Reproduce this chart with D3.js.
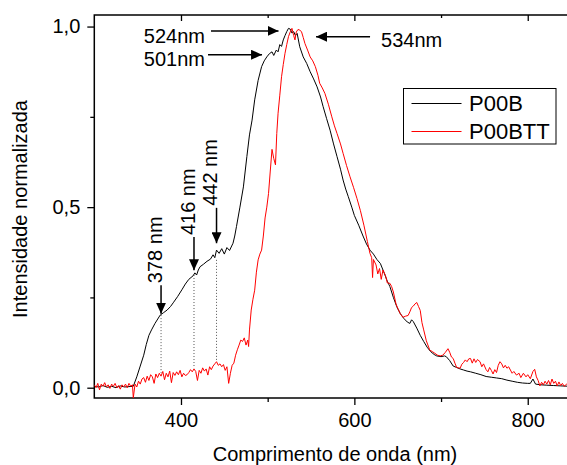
<!DOCTYPE html>
<html>
<head>
<meta charset="utf-8">
<script src="https://cdnjs.cloudflare.com/ajax/libs/d3/7.8.5/d3.min.js"></script>
<style>
	body { margin: 0; background: #fff; }
	svg { display: block; font-family: "Liberation Sans", Arial, sans-serif; }
	.frame { fill: none; stroke: #000; stroke-width: 1.5px; }
	.axis text { font-size: 20px; fill: #000; }
	.axis line { stroke: #000; stroke-width: 1.3px; }
	.axis .domain { display: none; }
	.series { fill: none; stroke-width: 1px; stroke-linejoin: round; }
	.guide { stroke: #555; stroke-width: 1px; stroke-dasharray: 1,2; }
	.arrow { stroke: #000; stroke-width: 1.5px; }
	.note { font-size: 20px; }
	.legend rect { fill: #fff; stroke: #000; stroke-width: 1px; }
	.legend text { font-size: 22px; }
	.title { font-size: 20px; }
</style>
</head>
<body>
<div id="chart"></div>
<script>
// ticks
var xTickValues = [400, 600, 800],
	xMinorTicks = [500, 700],
	yTickValues = [0, 0.5, 1.0],
	yTickLabels = ["0,0", "0,5", "1,0"],
	yMinorTicks = [0.25, 0.75];

var seriesNames = ["P00B", "P00BTT"],
	seriesColors = ["#000000", "#ff0000"];

// P00B (black)
var p00bNm = [300, 305, 310, 315, 320, 325, 330, 335, 340, 345, 349, 353, 357, 360, 363, 366, 370, 376, 380, 384,
	388, 391, 396, 401, 405, 409, 414, 416, 418, 420, 422, 426, 430, 434, 437, 439, 441, 444, 447, 450,
	453, 456, 460, 462, 464, 468, 472, 476, 479, 482, 485, 489, 493, 496, 499, 502, 505, 507, 510, 512,
	514, 516, 518, 520, 522, 524, 526, 528, 530, 532, 534, 537, 541, 545, 549, 553, 557, 561, 564, 568,
	572, 576, 580, 584, 587, 590, 593, 597, 600, 605, 610, 614, 618, 622, 626, 630, 634, 638, 641, 645,
	649, 653, 657, 661, 664, 666, 668, 672, 676, 680, 684, 688, 692, 695, 700, 704, 706, 710, 714, 718,
	722, 726, 730, 734, 740, 746, 752, 758, 764, 770, 776, 782, 788, 794, 800, 803, 806, 809, 815, 822,
	830, 838, 848];
var p00bValues = [0.004, 0.002, 0.006, 0.001, 0.004, 0.000, 0.005, 0.002, 0.003, 0.004, 0.030, 0.060, 0.090, 0.120, 0.145, 0.160, 0.178, 0.201, 0.208, 0.215,
	0.225, 0.235, 0.252, 0.271, 0.287, 0.300, 0.310, 0.318, 0.312, 0.326, 0.335, 0.342, 0.350, 0.356, 0.368, 0.360, 0.381, 0.372, 0.385, 0.370,
	0.388, 0.380, 0.400, 0.420, 0.446, 0.500, 0.556, 0.640, 0.700, 0.741, 0.797, 0.851, 0.889, 0.905, 0.916, 0.925, 0.930, 0.920, 0.935, 0.930,
	0.950, 0.945, 0.963, 0.975, 0.986, 0.995, 0.993, 0.982, 0.986, 0.975, 0.981, 0.944, 0.916, 0.898, 0.875, 0.855, 0.833, 0.805, 0.778, 0.745,
	0.713, 0.675, 0.640, 0.605, 0.575, 0.550, 0.529, 0.500, 0.477, 0.450, 0.420, 0.398, 0.381, 0.370, 0.355, 0.344, 0.320, 0.295, 0.280, 0.250,
	0.224, 0.205, 0.192, 0.182, 0.178, 0.188, 0.183, 0.165, 0.145, 0.128, 0.112, 0.100, 0.092, 0.088, 0.086, 0.088, 0.086, 0.075, 0.060, 0.056,
	0.052, 0.049, 0.046, 0.044, 0.040, 0.036, 0.031, 0.029, 0.027, 0.025, 0.021, 0.018, 0.015, 0.013, 0.012, 0.012, 0.024, 0.010, 0.008, 0.007,
	0.006, 0.005, 0.004];

// P00BTT (red)
var p00bttNm = [300, 302, 304, 306, 308, 310, 312, 314, 316, 318, 320, 322, 324, 326, 328, 330, 332, 334, 336, 338,
	340, 342, 344, 345, 347, 349, 351, 353, 355, 357, 359, 361, 363, 365, 367, 369, 371, 373, 375, 377,
	379, 381, 383, 385, 387, 389, 391, 393, 395, 397, 399, 401, 403, 405, 407, 409, 411, 413, 415, 417,
	419, 421, 423, 425, 427, 429, 431, 433, 435, 437, 439, 441, 443, 445, 447, 449, 451, 453, 455, 457,
	459, 461, 463, 465, 467, 469, 471, 473, 475, 477, 478, 479, 481, 483, 485, 487, 489, 491, 493, 495,
	497, 499, 501, 503, 505, 507, 509, 510.5, 512, 514, 516, 518, 520, 522, 524, 526, 528, 530, 531.5, 533,
	535, 537, 539, 541, 543, 546, 549, 552, 555, 558, 560, 563, 566, 570, 574, 577, 580, 584, 587, 591,
	595, 599, 603, 607, 611, 615, 618, 620, 621, 622, 625, 627, 629, 631, 633, 636, 638, 641, 643, 645,
	648, 650, 653, 656, 659, 662, 664, 666, 668, 670, 672, 674, 676, 678, 680, 683, 687, 690, 693, 696,
	699, 702, 705, 708, 710, 712, 714, 716, 718, 720, 722, 724, 726, 728, 730, 732, 734, 736, 738, 740,
	742, 745, 747, 749, 752, 754, 756, 758, 760, 762, 764, 766, 768, 770, 772, 774, 776, 778, 780, 782,
	784, 787, 790, 792, 795, 798, 800, 803, 806, 808, 810, 812, 814, 816, 818, 820, 822, 824, 826, 828,
	830, 832, 834, 836, 838, 840, 842, 845, 848];
var p00bttValues = [0.008, 0.000, 0.012, -0.006, 0.010, 0.004, 0.014, 0.002, 0.008, -0.002, 0.010, 0.004, 0.012, 0.000, 0.006, -0.004, 0.008, 0.002, 0.010, 0.000,
	0.012, 0.004, 0.008, -0.028, 0.010, 0.002, 0.018, 0.010, 0.024, 0.028, 0.015, 0.032, 0.020, 0.036, 0.030, 0.012, 0.038, 0.028, 0.040, 0.032,
	0.045, 0.022, 0.040, 0.030, 0.046, 0.014, 0.042, 0.034, 0.044, 0.036, 0.048, 0.030, 0.040, 0.034, 0.036, 0.042, 0.050, 0.044, 0.052, 0.045,
	0.020, 0.048, 0.040, 0.055, 0.046, 0.052, 0.035, 0.058, 0.050, 0.060, 0.066, 0.072, 0.062, 0.066, 0.058, 0.064, 0.048, 0.058, 0.012, 0.040,
	0.062, 0.068, 0.090, 0.105, 0.118, 0.132, 0.128, 0.138, 0.118, 0.132, 0.114, 0.160, 0.215, 0.245, 0.270, 0.320, 0.354, 0.370, 0.381, 0.420,
	0.470, 0.500, 0.538, 0.600, 0.660, 0.635, 0.617, 0.704, 0.760, 0.810, 0.861, 0.895, 0.926, 0.950, 0.972, 0.985, 0.995, 0.975, 0.963, 0.985,
	0.992, 0.990, 0.986, 0.970, 0.953, 0.935, 0.916, 0.905, 0.889, 0.865, 0.843, 0.830, 0.815, 0.785, 0.750, 0.725, 0.704, 0.675, 0.649, 0.615,
	0.584, 0.555, 0.524, 0.490, 0.450, 0.405, 0.372, 0.360, 0.305, 0.355, 0.340, 0.315, 0.330, 0.300, 0.326, 0.310, 0.290, 0.289, 0.280, 0.265,
	0.232, 0.220, 0.205, 0.195, 0.198, 0.200, 0.210, 0.222, 0.226, 0.232, 0.236, 0.225, 0.214, 0.180, 0.160, 0.130, 0.104, 0.100, 0.095, 0.090,
	0.088, 0.090, 0.098, 0.108, 0.098, 0.085, 0.081, 0.068, 0.056, 0.055, 0.054, 0.065, 0.070, 0.077, 0.072, 0.080, 0.081, 0.068, 0.080, 0.070,
	0.078, 0.072, 0.058, 0.066, 0.050, 0.044, 0.056, 0.048, 0.038, 0.050, 0.042, 0.062, 0.072, 0.066, 0.055, 0.062, 0.054, 0.058, 0.049, 0.040,
	0.045, 0.035, 0.040, 0.028, 0.040, 0.030, 0.036, 0.025, 0.045, 0.051, 0.030, 0.020, 0.005, 0.015, 0.008, 0.018, 0.010, 0.020, 0.008, 0.024,
	0.012, 0.018, 0.005, 0.016, 0.006, 0.012, 0.004, 0.010, 0.006];

// peak arrows (horizontal) and shoulder arrows (vertical), in nm / intensity
var peakLabels = ["524nm", "501nm", "534nm"],
	peakArrows = [[434.6, 0.988, 512.5, 0.988], [431.2, 0.922, 493.5, 0.922], [618.1, 0.972, 555.8, 0.972]],
	peakTextAt = [[427.7, 0.955, "end"], [427.7, 0.891, "end"], [630.8, 0.944, "start"]];

var shoulderLabels = ["378 nm", "416 nm", "442 nm"],
	shoulderNm = [377, 415, 441],
	shoulderArrowFrom = [0.284, 0.417, 0.498],
	shoulderArrowTo = [0.205, 0.325, 0.400],
	shoulderGuideTop = [0.201, 0.312, 0.354],
	shoulderGuideBottom = [0.041, 0.054, 0.077];

var chart = {
	create : function(config) {
		var _select = config.select || "#chart",
			_width = config.width || 567,
			_height = config.height || 465;

		var plot = { left: 94.3, right: 569, top: 15, bottom: 398 };

		var x = d3.scaleLinear().domain([300, 847.6]).range([plot.left, plot.right]);
		var y = d3.scaleLinear().domain([-0.0285, 1.032]).range([plot.bottom, plot.top]);

		var svg = d3.select(_select).append("svg")
			.attr("width", _width)
			.attr("height", _height);

		var defs = svg.append("defs");
		defs.append("clipPath").attr("id", "plotclip")
			.append("rect")
			.attr("x", plot.left).attr("y", plot.top)
			.attr("width", plot.right - plot.left).attr("height", plot.bottom - plot.top);
		defs.append("marker")
			.attr("id", "head")
			.attr("markerUnits", "userSpaceOnUse")
			.attr("viewBox", "0 0 11 10")
			.attr("refX", 11).attr("refY", 5)
			.attr("markerWidth", 11).attr("markerHeight", 10)
			.attr("orient", "auto")
			.append("path")
			.attr("d", "M0,0L11,5L0,10Z")
			.attr("fill", "#000");

		//
		// Axes
		//
		svg.append("g").attr("class", "axis")
			.attr("transform", "translate(0," + plot.bottom + ")")
			.call(d3.axisBottom(x).tickValues(xTickValues).tickSize(7).tickPadding(8).tickFormat(d3.format("d")));
		svg.append("g").attr("class", "axis")
			.attr("transform", "translate(0," + plot.bottom + ")")
			.call(d3.axisBottom(x).tickValues(xMinorTicks).tickSize(4).tickFormat(""));
		svg.append("g").attr("class", "axis")
			.attr("transform", "translate(0," + plot.top + ")")
			.call(d3.axisTop(x).tickValues(xTickValues).tickSize(-6).tickFormat(""));
		svg.append("g").attr("class", "axis")
			.attr("transform", "translate(0," + plot.top + ")")
			.call(d3.axisTop(x).tickValues(xMinorTicks).tickSize(-3).tickFormat(""));

		svg.append("g").attr("class", "axis")
			.attr("transform", "translate(" + plot.left + ",0)")
			.call(d3.axisLeft(y).tickValues(yTickValues).tickSize(7).tickPadding(7)
				.tickFormat(function(d, i) { return yTickLabels[i]; }));
		svg.append("g").attr("class", "axis")
			.attr("transform", "translate(" + plot.left + ",0)")
			.call(d3.axisLeft(y).tickValues(yMinorTicks).tickSize(4).tickFormat(""));

		svg.append("rect")
			.attr("class", "frame")
			.attr("x", plot.left).attr("y", plot.top)
			.attr("width", plot.right - plot.left).attr("height", plot.bottom - plot.top);

		svg.append("text").attr("class", "title")
			.attr("x", 335).attr("y", 461)
			.attr("text-anchor", "middle")
			.text("Comprimento de onda (nm)");
		svg.append("text").attr("class", "title")
			.attr("transform", "translate(26.5,209) rotate(-90)")
			.attr("text-anchor", "middle")
			.text("Intensidade normalizada");

		//
		// Guides (dotted) under the curves
		//
		var g = svg.append("g").attr("clip-path", "url(#plotclip)");

		g.selectAll("line.guide")
			.data(shoulderNm)
			.enter()
			.append("line")
			.attr("class", "guide")
			.attr("x1", function(d) { return x(d); })
			.attr("x2", function(d) { return x(d); })
			.attr("y1", function(d, i) { return y(shoulderGuideTop[i]); })
			.attr("y2", function(d, i) { return y(shoulderGuideBottom[i]); });

		//
		// Series
		//
		var series = [
			{ nm: p00bNm, v: p00bValues },
			{ nm: p00bttNm, v: p00bttValues }
		];
		var line = d3.line()
			.x(function(d) { return x(d[0]); })
			.y(function(d) { return y(d[1]); });

		g.selectAll("path.series")
			.data(series)
			.enter()
			.append("path")
			.attr("class", "series")
			.attr("stroke", function(d, i) { return seriesColors[i]; })
			.attr("d", function(d) { return line(d3.zip(d.nm, d.v)); });

		//
		// Annotations
		//
		svg.selectAll("line.peak")
			.data(peakArrows)
			.enter()
			.append("line")
			.attr("class", "arrow peak")
			.attr("x1", function(d) { return x(d[0]); })
			.attr("y1", function(d) { return y(d[1]); })
			.attr("x2", function(d) { return x(d[2]); })
			.attr("y2", function(d) { return y(d[3]); })
			.attr("marker-end", "url(#head)");

		svg.selectAll("text.peak")
			.data(peakLabels)
			.enter()
			.append("text")
			.attr("class", "note peak")
			.attr("x", function(d, i) { return x(peakTextAt[i][0]); })
			.attr("y", function(d, i) { return y(peakTextAt[i][1]); })
			.attr("text-anchor", function(d, i) { return peakTextAt[i][2]; })
			.text(function(d) { return d; });

		svg.selectAll("line.shoulder")
			.data(shoulderNm)
			.enter()
			.append("line")
			.attr("class", "arrow shoulder")
			.attr("x1", function(d) { return x(d); })
			.attr("x2", function(d) { return x(d); })
			.attr("y1", function(d, i) { return y(shoulderArrowFrom[i]); })
			.attr("y2", function(d, i) { return y(shoulderArrowTo[i]); })
			.attr("marker-end", "url(#head)");

		svg.selectAll("text.shoulder")
			.data(shoulderLabels)
			.enter()
			.append("text")
			.attr("class", "note shoulder")
			.attr("transform", function(d, i) {
				return "translate(" + (x(shoulderNm[i]) + 0.8) + "," + (y(shoulderArrowFrom[i]) - 2) + ") rotate(-90)";
			})
			.text(function(d) { return d; });

		//
		// Legend
		//
		var legend = svg.append("g").attr("class", "legend")
			.attr("transform", "translate(403.5,88.5)");
		legend.append("rect").attr("width", 152.5).attr("height", 55.5);
		legend.selectAll("line")
			.data(seriesNames)
			.enter()
			.append("line")
			.attr("x1", 8).attr("x2", 58)
			.attr("y1", function(d, i) { return 15 + i * 28; })
			.attr("y2", function(d, i) { return 15 + i * 28; })
			.attr("stroke", function(d, i) { return seriesColors[i]; })
			.attr("stroke-width", 1);
		legend.selectAll("text")
			.data(seriesNames)
			.enter()
			.append("text")
			.attr("x", 65.5)
			.attr("y", function(d, i) { return 22.5 + i * 27.5; })
			.text(function(d) { return d; });
	}
};

chart.create({ select: "#chart", width: 567, height: 465 });
</script>
</body>
</html>
